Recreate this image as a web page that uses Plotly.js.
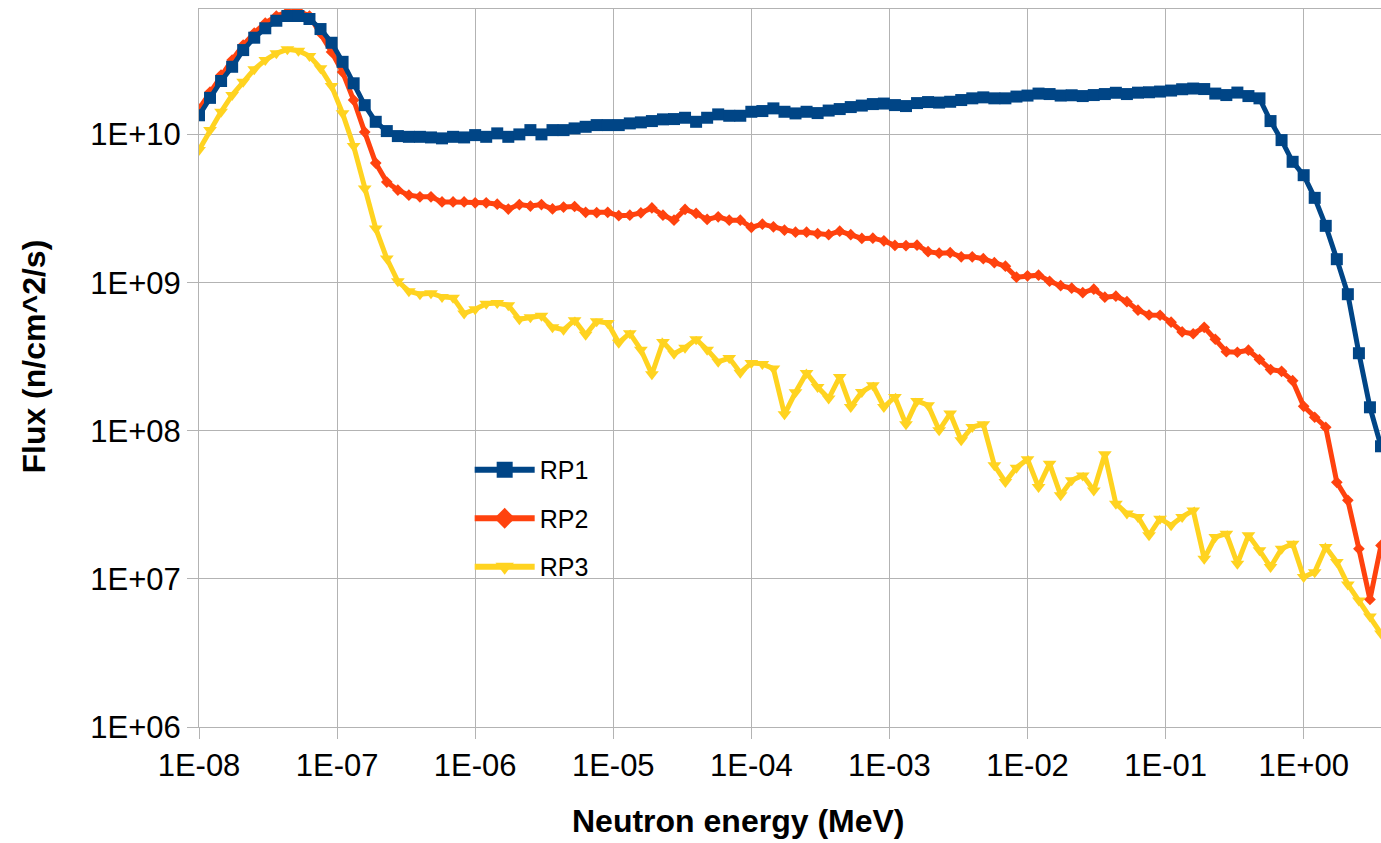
<!DOCTYPE html>
<html>
<head>
<meta charset="utf-8">
<script src="https://cdn.plot.ly/plotly-3.0.1.min.js"></script>
<style>html,body{margin:0;padding:0;background:#fff;}#chart{width:1381px;height:843px;}</style>
</head>
<body>
<div id="chart"></div>
<script>
// Neutron energy (MeV)
const energy = [
1.000e-8,1.202e-8,1.445e-8,1.738e-8,2.089e-8,2.512e-8,3.020e-8,3.631e-8,4.365e-8,5.248e-8,6.310e-8,7.586e-8,9.120e-8,
1.096e-7,1.318e-7,1.585e-7,1.905e-7,2.291e-7,2.754e-7,3.311e-7,3.981e-7,4.786e-7,5.754e-7,6.918e-7,8.318e-7,
1.000e-6,1.202e-6,1.445e-6,1.738e-6,2.089e-6,2.512e-6,3.020e-6,3.631e-6,4.365e-6,5.248e-6,6.310e-6,7.586e-6,9.120e-6,
1.096e-5,1.318e-5,1.585e-5,1.905e-5,2.291e-5,2.754e-5,3.311e-5,3.981e-5,4.786e-5,5.754e-5,6.918e-5,8.318e-5,
1.000e-4,1.202e-4,1.445e-4,1.738e-4,2.089e-4,2.512e-4,3.020e-4,3.631e-4,4.365e-4,5.248e-4,6.310e-4,7.586e-4,9.120e-4,
1.096e-3,1.318e-3,1.585e-3,1.905e-3,2.291e-3,2.754e-3,3.311e-3,3.981e-3,4.786e-3,5.754e-3,6.918e-3,8.318e-3,
1.000e-2,1.202e-2,1.445e-2,1.738e-2,2.089e-2,2.512e-2,3.020e-2,3.631e-2,4.365e-2,5.248e-2,6.310e-2,7.586e-2,9.120e-2,
1.096e-1,1.318e-1,1.585e-1,1.905e-1,2.291e-1,2.754e-1,3.311e-1,3.981e-1,4.786e-1,5.754e-1,6.918e-1,8.318e-1,
1.000,1.202,1.445,1.738,2.089,2.512,3.020,3.631
];

// Flux (n/cm^2/s)
const rp1 = [
1.35e10,1.77e10,2.30e10,2.87e10,3.72e10,4.51e10,5.22e10,5.87e10,6.32e10,6.32e10,6.03e10,5.16e10,4.17e10,
3.10e10,2.22e10,1.58e10,1.22e10,1.056e10,9.77e9,9.66e9,9.66e9,9.57e9,9.43e9,9.66e9,9.57e9,
9.92e9,9.66e9,1.019e10,9.66e9,1.003e10,1.072e10,1.003e10,1.072e10,1.072e10,1.101e10,1.129e10,1.159e10,1.159e10,
1.159e10,1.19e10,1.209e10,1.234e10,1.267e10,1.273e10,1.299e10,1.22e10,1.299e10,1.369e10,1.34e10,1.34e10,
1.426e10,1.442e10,1.503e10,1.426e10,1.39e10,1.426e10,1.397e10,1.453e10,1.487e10,1.534e10,1.57e10,1.607e10,1.62e10,
1.582e10,1.558e10,1.632e10,1.658e10,1.645e10,1.666e10,1.711e10,1.757e10,1.784e10,1.757e10,1.757e10,1.806e10,
1.834e10,1.892e10,1.878e10,1.834e10,1.843e10,1.82e10,1.849e10,1.878e10,1.916e10,1.878e10,1.919e10,1.931e10,1.952e10,
1.983e10,2.024e10,2.046e10,2.03e10,1.892e10,1.849e10,1.922e10,1.82e10,1.757e10,1.234e10,9.18e9,6.55e9,
5.32e9,3.74e9,2.42e9,1.441e9,8.36e8,3.34e8,1.441e8,7.86e7
];

const rp2 = [
1.487e10,1.937e10,2.523e10,3.187e10,4.025e10,4.85e10,5.67e10,6.32e10,6.73e10,6.83e10,6.32e10,4.85e10,3.61e10,
2.645e10,1.711e10,1.04e10,6.42e9,4.78e9,4.22e9,3.90e9,3.80e9,3.80e9,3.51e9,3.51e9,3.51e9,
3.46e9,3.46e9,3.39e9,3.14e9,3.37e9,3.29e9,3.37e9,3.15e9,3.24e9,3.27e9,2.985e9,2.97e9,2.985e9,
2.836e9,2.858e9,2.961e9,3.20e9,2.858e9,2.644e9,3.124e9,2.934e9,2.673e9,2.783e9,2.644e9,2.644e9,
2.36e9,2.485e9,2.382e9,2.263e9,2.194e9,2.194e9,2.144e9,2.11e9,2.228e9,2.11e9,1.989e9,1.998e9,1.916e9,
1.786e9,1.778e9,1.792e9,1.62e9,1.582e9,1.595e9,1.494e9,1.494e9,1.453e9,1.365e9,1.293e9,1.089e9,
1.113e9,1.124e9,1.023e9,9.54e8,9.18e8,8.56e8,9.04e8,7.98e8,8.11e8,7.44e8,6.52e8,6.05e8,6.03e8,
5.41e8,4.65e8,4.52e8,5.00e8,4.15e8,3.42e8,3.39e8,3.50e8,3.03e8,2.59e8,2.52e8,2.18e8,
1.463e8,1.234e8,1.056e8,4.49e7,3.39e7,1.595e7,7.27e6,1.684e7
];

const rp3 = [
7.86e9,1.072e10,1.426e10,1.849e10,2.274e10,2.757e10,3.187e10,3.537e10,3.765e10,3.684e10,3.391e10,2.801e10,2.127e10,
1.391e10,8.36e9,4.33e9,2.324e9,1.457e9,1.023e9,8.76e8,8.36e8,8.49e8,8.02e8,7.92e8,6.19e8,
6.62e8,7.21e8,7.30e8,7.05e8,5.67e8,5.85e8,5.98e8,5.00e8,4.81e8,5.58e8,4.45e8,5.49e8,5.35e8,
3.93e8,4.56e8,3.53e8,2.41e8,3.98e8,3.31e8,3.64e8,4.15e8,3.53e8,2.92e8,3.10e8,2.47e8,
2.87e8,2.83e8,2.63e8,1.293e8,1.82e8,2.46e8,1.976e8,1.651e8,2.31e8,1.448e8,1.83e8,2.03e8,1.448e8,
1.692e8,1.106e8,1.59e8,1.487e8,1.008e8,1.307e8,8.62e7,1.061e8,1.106e8,5.85e7,4.51e7,5.64e7,
6.42e7,4.17e7,6.00e7,3.67e7,4.63e7,5.00e7,3.96e7,6.94e7,3.22e7,2.76e7,2.62e7,1.968e7,2.55e7,
2.30e7,2.62e7,2.90e7,1.369e7,1.916e7,2.02e7,1.267e7,1.968e7,1.559e7,1.201e7,1.60e7,1.729e7,
1.028e7,1.111e7,1.64e7,1.299e7,9.18e6,7.16e6,5.58e6,4.28e6
];

const seriesNames = ['RP1','RP2','RP3'];
const seriesColors = ['#004586','#ff420e','#ffd320'];
const seriesSymbols = ['square','diamond','triangle-down'];

const xTickVals = [1e-8,1e-7,1e-6,1e-5,1e-4,1e-3,1e-2,1e-1,1];
const xTickText = ['1E-08','1E-07','1E-06','1E-05','1E-04','1E-03','1E-02','1E-01','1E+00'];
const yTickVals = [1e6,1e7,1e8,1e9,1e10];
const yTickText = ['1E+06','1E+07','1E+08','1E+09','1E+10'];

const FONT = 'Liberation Sans, Arial, sans-serif';
const dataSets = [rp1, rp2, rp3];
const markerSizes = [12, 9, 12];

const traces = [];
// data traces, drawn RP3, RP2, RP1 (RP1 on top)
[2,1,0].forEach(i => {
  traces.push({
    type: 'scatter', mode: 'lines+markers', x: energy, y: dataSets[i],
    name: seriesNames[i], showlegend: false,
    line: {color: seriesColors[i], width: 5},
    marker: {symbol: seriesSymbols[i], size: markerSizes[i], color: seriesColors[i]}
  });
});
// legend entries
[0,1,2].forEach(i => {
  traces.push({
    type: 'scatter', mode: 'lines+markers', x: [null], y: [null],
    name: seriesNames[i], legendgroup: 'g' + i, showlegend: true,
    line: {color: seriesColors[i], width: 6},
    marker: {symbol: seriesSymbols[i], size: 16, color: seriesColors[i]}
  });
});

const layout = {
  width: 1381, height: 843,
  margin: {l: 199, r: 0, t: 9, b: 116},
  paper_bgcolor: '#ffffff', plot_bgcolor: '#ffffff',
  font: {family: FONT, color: '#000000', size: 31},
  showlegend: true,
  legend: {
    x: 0.229, y: 0.39, xanchor: 'left', yanchor: 'top',
    font: {family: FONT, size: 25, color: '#000'},
    bgcolor: 'rgba(0,0,0,0)', itemwidth: 60, traceorder: 'grouped', tracegroupgap: 13
  },
  xaxis: {
    type: 'log', range: [-8, Math.log10(3.631)],
    tickvals: xTickVals, ticktext: xTickText,
    showgrid: true, gridcolor: '#b3b3b3', gridwidth: 1,
    showline: true, linecolor: '#b3b3b3', linewidth: 1, mirror: true,
    ticks: 'outside', ticklen: 11, tickcolor: '#b3b3b3',
    tickfont: {family: FONT, size: 31, color: '#000'},
    zeroline: false
  },
  yaxis: {
    type: 'log', range: [6, 10.848],
    tickvals: yTickVals, ticktext: yTickText,
    showgrid: true, gridcolor: '#b3b3b3', gridwidth: 1,
    showline: true, linecolor: '#b3b3b3', linewidth: 1,
    ticks: 'outside', ticklen: 11, tickcolor: '#b3b3b3',
    tickfont: {family: FONT, size: 31, color: '#000'},
    zeroline: false
  },
  annotations: [
    {text: '<b>Neutron energy (MeV)</b>', xref: 'paper', yref: 'paper',
     x: 0.4556, y: -0.1310, xanchor: 'center', yanchor: 'middle', showarrow: false,
     font: {family: FONT, size: 32, color: '#000'}},
    {text: '<b>Flux (n/cm^2/s)</b>', xref: 'paper', yref: 'paper',
     x: -0.1404, y: 0.516, xanchor: 'center', yanchor: 'middle', showarrow: false, textangle: -90,
     font: {family: FONT, size: 32, color: '#000'}}
  ]
};

Plotly.newPlot('chart', traces, layout, {displayModeBar: false, staticPlot: true});
</script>
</body>
</html>
